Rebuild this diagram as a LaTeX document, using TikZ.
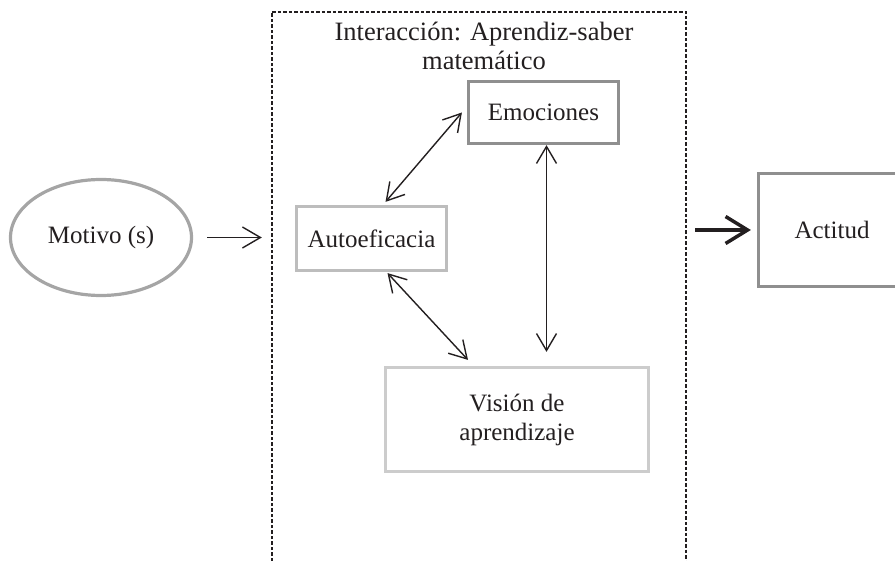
\documentclass[tikz,border=0pt]{standalone}
\usepackage{fontspec}
\setmainfont{Liberation Serif}
\usetikzlibrary{shapes.geometric, arrows.meta, positioning, calc}

\definecolor{textgray}{HTML}{231F20}
\definecolor{midgray}{HTML}{8F8F8F}
\definecolor{lightgray}{HTML}{BDBDBD}
\definecolor{palegray}{HTML}{CCCCCC}

\tikzset{
	concept/.style={draw, line width=3.2pt, align=center, inner sep=0pt,
		text=textgray, font=\fontsize{25}{29}\selectfont},
	link/.style={line width=1.4pt, textgray, {Straight Barb[length=17pt,width=20pt]}-{Straight Barb[length=17pt,width=20pt]}},
	feed/.style={line width=1.4pt, textgray, -{Straight Barb[length=18pt,width=21pt]}},
	result/.style={line width=3.5pt, textgray, -{Straight Barb[length=22pt,width=27pt]}},
	framedash/.style={line width=1.6pt, textgray, dash pattern=on 3.5pt off 2pt}
}

\begin{document}
\begin{tikzpicture}[x=1pt, y=-1pt]
		\useasboundingbox (0,0) rectangle (895,561);
		\clip (0,0) rectangle (895,561);

		% Motive
		\node[concept, ellipse, draw=midgray!80!white, minimum width=181pt, minimum height=116pt] (motivo) at (101,237.5) {Motivo (s)};

		% Interaction frame
		\node[minimum width=414pt, minimum height=549pt, inner sep=0pt] (frame) at (479,286.5) {};
		\draw[framedash] (frame.south west) -- (frame.north west) -- (frame.north east) -- (frame.south east);
		\node[align=center, text=textgray, font=\fontsize{26.5}{29}\selectfont] (titulo) at (484,46) {Interacción: Aprendiz-saber\\matemático};

		% Components
		\node[concept, draw=midgray, minimum width=150pt, minimum height=62pt] (emoc) at (543.5,112.5) {Emociones};
		\node[concept, draw=lightgray, minimum width=150pt, minimum height=64pt] (auto) at (371.5,238.5) {Autoeficacia};
		\node[concept, draw=palegray, minimum width=263pt, minimum height=104pt] (vision) at (517,419.5) {Visión de\\aprendizaje};

		% Attitude
		\node[concept, draw=midgray, minimum width=147pt, minimum height=113pt] (actitud) at (832,230) {Actitud};

		% Relations
		\draw[feed] ([xshift=14pt]motivo.east) -- ([xshift=-10pt]frame.west |- motivo.east);
		\draw[link] ([xshift=14pt,yshift=3pt]auto.north) -- ([xshift=-5pt]emoc.west);
		\draw[link] ([xshift=16pt,yshift=-1pt]auto.south) -- ([xshift=-49pt,yshift=6pt]vision.north);
		\draw[link] ([xshift=3pt]emoc.south) -- ([xshift=3pt,yshift=14pt]emoc.south |- vision.north);
		\draw[result] ([xshift=9pt]frame.east |- actitud.west) -- ([xshift=-6pt]actitud.west);
	\end{tikzpicture}
\end{document}
